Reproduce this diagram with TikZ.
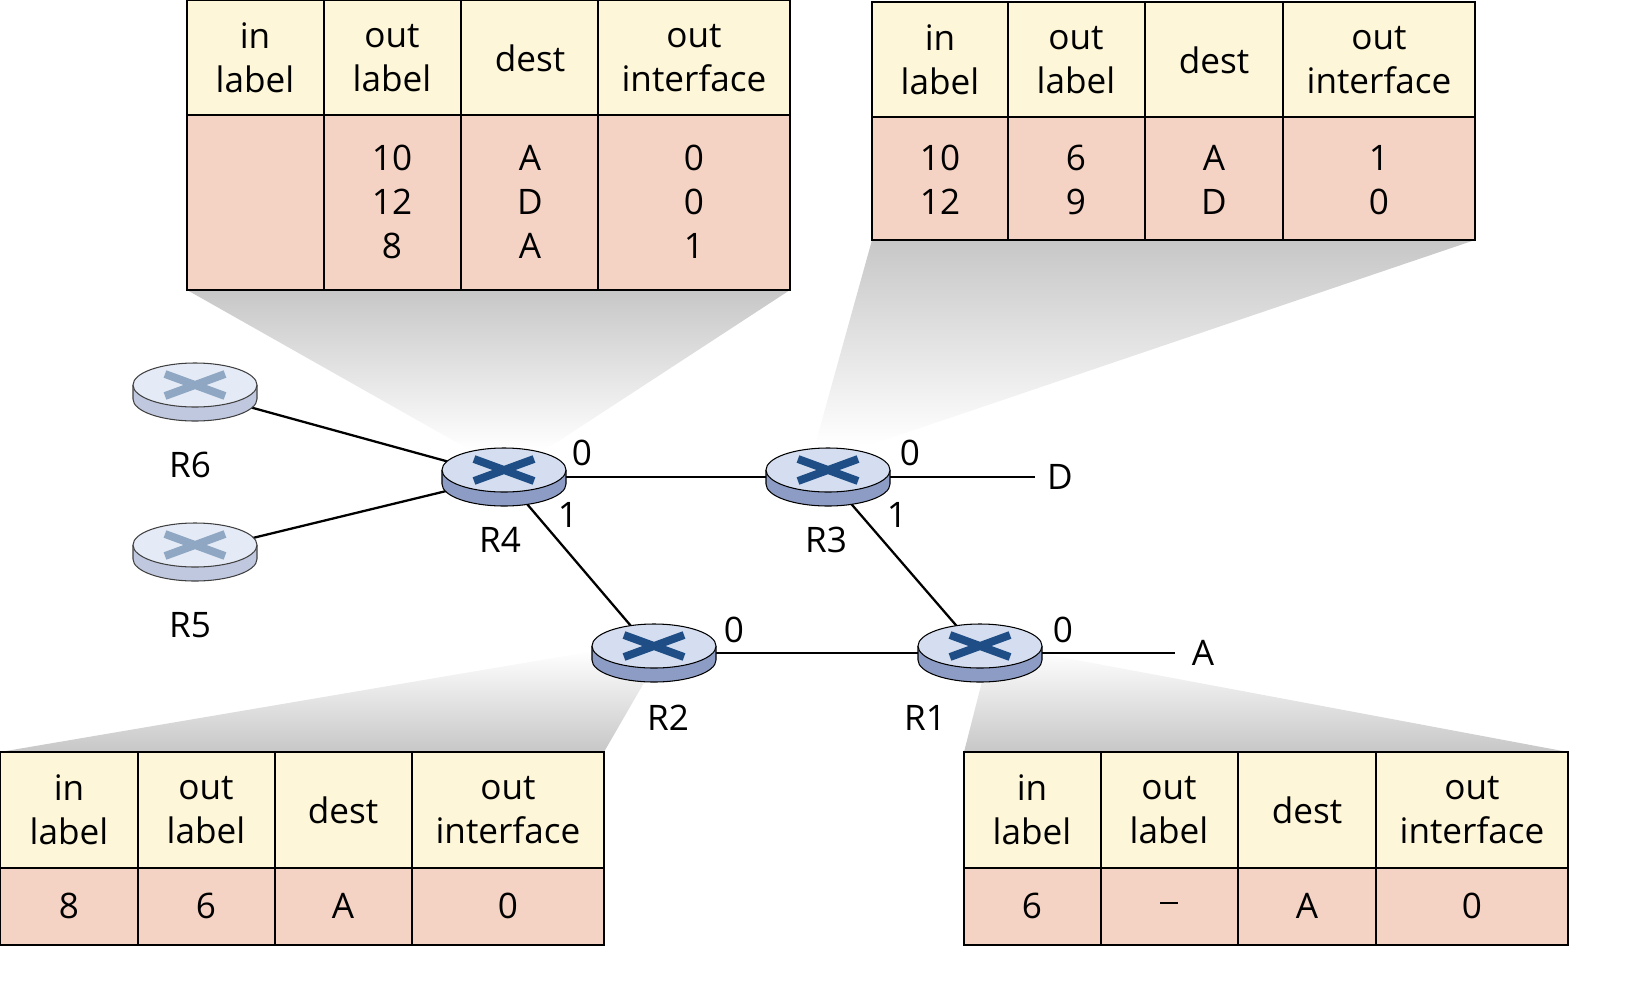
\documentclass[tikz,border=0pt]{standalone}
\usepackage{fontspec}
\setmainfont{Open Sans}
\begin{document}
\definecolor{hdr}{HTML}{FDF6D8}
\definecolor{bdy}{HTML}{F5D3C4}
\definecolor{rtop}{HTML}{D4DEF0}
\definecolor{rside}{HTML}{8C9CC4}
\definecolor{xcol}{HTML}{1F4E86}
\begin{tikzpicture}[x=0.02cm,y=-0.02cm,
  txt/.style={font=\fontsize{20}{25}\selectfont,align=center,inner sep=0pt},
  cell/.style={draw=black,line width=0.9pt},
  lnk/.style={line width=1.3pt},
  rl/.style={txt},
  pics/router/.style={code={
    \fill[rside] (-62,-7) -- (-62,7) arc[start angle=180,end angle=0,x radius=62,y radius=22] -- (62,-7) -- cycle;
    \draw[line width=0.6pt] (-62,-7) -- (-62,7) arc[start angle=180,end angle=0,x radius=62,y radius=22] -- (62,-7);
    \draw[fill=rtop,line width=0.6pt] (0,-7) ellipse[x radius=62,y radius=22];
    \draw[xcol,line width=4.5pt] (-30,-18) -- (30,4) (-30,4) -- (30,-18);
  }},
  pics/routerf/.style={code={
    \fill[rside!55] (-62,-7) -- (-62,7) arc[start angle=180,end angle=0,x radius=62,y radius=22] -- (62,-7) -- cycle;
    \draw[black!75,line width=0.6pt] (-62,-7) -- (-62,7) arc[start angle=180,end angle=0,x radius=62,y radius=22] -- (62,-7);
    \draw[black!75,fill=rtop!60,line width=0.6pt] (0,-7) ellipse[x radius=62,y radius=22];
    \draw[xcol!50,line width=4.5pt] (-30,-18) -- (30,4) (-30,4) -- (30,-18);
  }}]
\useasboundingbox (0,0) rectangle (1643,991);
% shadow cones
\shade[top color=black!22,bottom color=white] (187,290) -- (790,290) -- (545,450) -- (470,450) -- cycle;
\shade[top color=black!22,bottom color=white] (872,240) -- (1475,240) -- (870,445) -- (815,445) -- cycle;
\shade[top color=white,bottom color=black!22] (600,650) -- (660,655) -- (604,752) -- (0,752) -- cycle;
\shade[top color=white,bottom color=black!22] (990,650) -- (1050,655) -- (1568,752) -- (964,752) -- cycle;
% tables
\foreach \x/\y/\h/\b/\a/\bb/\c/\d in {187/0/115/290/324/461/598/790, 872/2/117/240/1008/1145/1283/1475, 0/752/868/945/138/275/412/604, 964/752/868/945/1101/1238/1376/1568}{
  \fill[hdr] (\x,\y) rectangle (\d,\h);
  \fill[bdy] (\x,\h) rectangle (\d,\b);
  \draw[cell] (\x,\y) rectangle (\d,\b) (\x,\h) -- (\d,\h)
    (\a,\y) -- (\a,\b) (\bb,\y) -- (\bb,\b) (\c,\y) -- (\c,\b);
}
% headers
\foreach \cx/\cy/\t [count=\i] in {
  255/58/{in\\label},392/58/{out\\label},530/58/dest,694/58/{out\\interface},
  940/60/{in\\label},1076/60/{out\\label},1214/60/dest,1379/60/{out\\interface},
  69/810/{in\\label},206/810/{out\\label},343/810/dest,508/810/{out\\interface},
  1032/810/{in\\label},1169/810/{out\\label},1307/810/dest,1472/810/{out\\interface}}
  \node[txt] (h\i) at (\cx,\cy) {\t};
% bodies
\node[txt] (b1) at (392,202) {10\\12\\8};
\node[txt] (b2) at (530,202) {A\\D\\A};
\node[txt] (b3) at (694,202) {0\\0\\1};
\node[txt] (b4) at (940,180) {10\\12};
\node[txt] (b5) at (1076,180) {6\\9};
\node[txt] (b6) at (1214,180) {A\\D};
\node[txt] (b7) at (1379,180) {1\\0};
\node[txt] (b8) at (69,906) {8};
\node[txt] (b9) at (206,906) {6};
\node[txt] (b10) at (343,906) {A};
\node[txt] (b11) at (508,906) {0};
\node[txt] (b12) at (1032,906) {6};
\node[txt] (b13) at (1169,906) {\rule[0.3ex]{0.5em}{0.06em}};
\node[txt] (b14) at (1307,906) {A};
\node[txt] (b15) at (1472,906) {0};
% router anchors
\coordinate (R4) at (504,477);
\coordinate (R3) at (828,477);
\coordinate (R2) at (654,653);
\coordinate (R1) at (980,653);
\coordinate (R6) at (195,392);
\coordinate (R5) at (195,552);
\coordinate (D) at (1035,477);
\coordinate (A) at (1175,653);
% links
\draw[lnk] (R6) -- (R4);
\draw[lnk] (R5) -- (R4);
\draw[lnk] (R4) -- (R3);
\draw[lnk] (R3) -- (D);
\draw[lnk] (R4) -- (R2);
\draw[lnk] (R3) -- (R1);
\draw[lnk] (R2) -- (R1);
\draw[lnk] (R1) -- (A);
% routers
\pic at (R6) {routerf};
\pic at (R5) {routerf};
\pic at (R4) {router};
\pic at (R3) {router};
\pic at (R2) {router};
\pic at (R1) {router};
% labels
\node[rl] (lD) at (1060,477) {D};
\node[rl] (lA) at (1203,653) {A};
\node[rl] (l6) at (190,465) {R6};
\node[rl] (l5) at (190,625) {R5};
\node[rl] (l4) at (500,540) {R4};
\node[rl] (l3) at (826,540) {R3};
\node[rl] (l2) at (668,718) {R2};
\node[rl] (l1) at (925,718) {R1};
\node[rl] (i1) at (582,453) {0};
\node[rl] (i2) at (568,515) {1};
\node[rl] (i3) at (910,453) {0};
\node[rl] (i4) at (897,515) {1};
\node[rl] (i5) at (734,630) {0};
\node[rl] (i6) at (1063,630) {0};
\end{tikzpicture}
\end{document}
